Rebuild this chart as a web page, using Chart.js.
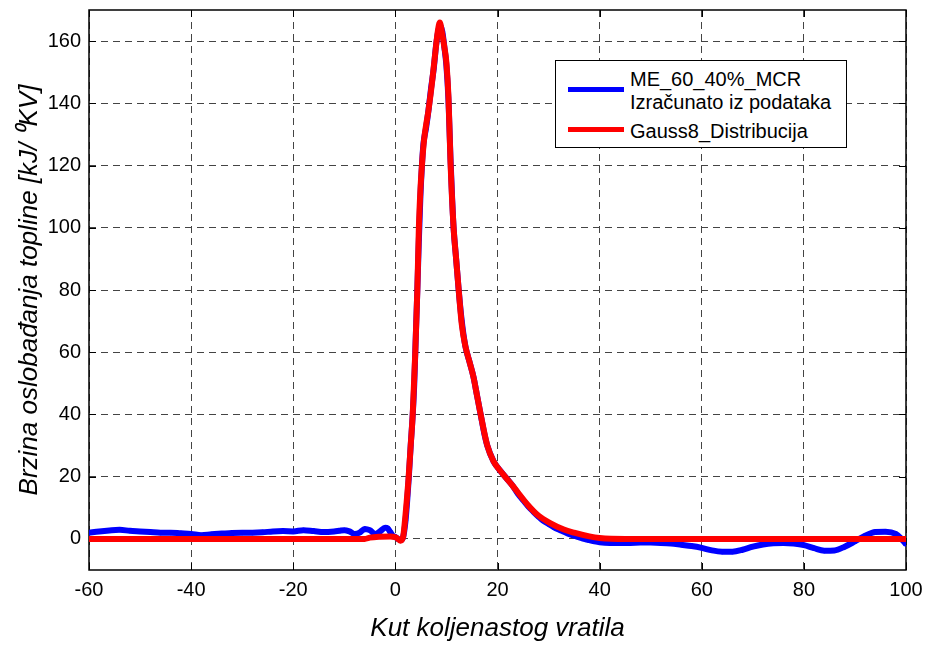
<!DOCTYPE html>
<html>
<head>
<meta charset="utf-8">
<script src="https://cdn.jsdelivr.net/npm/chart.js@4"></script>
<style>
  body { margin: 0; background: #fff; }
  #wrap { position: relative; width: 926px; height: 646px; }
  #legend { position: absolute; left: 555px; top: 60px; width: 290px; height: 86px;
    border: 1px solid #000; background: #fff; font-family: Arial, "Liberation Sans", sans-serif;
    font-size: 20px; color: #000; }
  #legend .sw { position: absolute; left: 12px; width: 56px; height: 5px; }
  #legend .tx { position: absolute; left: 74px; line-height: 23px; white-space: nowrap; }
</style>
</head>
<body>
<div id="wrap">
  <canvas id="graficoGauss" width="926" height="646"></canvas>
  <div id="legend">
    <div class="sw" style="top:26px;background:#0000ff"></div>
    <div class="tx" style="top:7px">ME_60_40%_MCR</div>
    <div class="tx" style="top:30px">Izračunato iz podataka</div>
    <div class="sw" style="top:66px;background:#ff0000"></div>
    <div class="tx" style="top:59px">Gauss8_Distribucija</div>
  </div>
</div>
<script>
// ── Data ───────────────────────────────────────────────────────────
const xTicks = [-60, -40, -20, 0, 20, 40, 60, 80, 100];
const yTicks = [0, 20, 40, 60, 80, 100, 120, 140, 160];

// measured curve (blue, dots)
const xBlue = [-60,-58,-56,-54,-52,-50,-48,-46,-44,-42,-40,-38,-36,-34,-32,-30,-28,-26,-24,-22,-20,-18,-16,-14,-12,-11,-10,-9,-8,-7,-6,-5,-4,-3,-2,-1.5,-1,-0.5,0,0.5,1,1.5,2,2.3,2.6,3,3.4,3.7,3.9,4.1,4.3,4.6,4.9,5.2,5.5,6,6.5,7,7.5,8,8.5,8.8,9.2,9.6,10,10.4,10.8,11.1,11.4,11.9,12.4,13,13.7,14.5,15.3,16,16.7,17.4,18,19.2,20,21,22,23,24,25,26,27,28,29,30,31,32,33,34,35,36,37,38,39,40,42,44,46,48,50,52,54,56,58,60,62,64,66,68,70,72,74,76,78,80,82,84,86,88,90,92,94,96,98,99,100];
const yBlue = [2.0,2.4,2.7,2.9,2.6,2.4,2.2,2.0,2.0,1.8,1.6,1.2,1.5,1.7,1.9,2.0,2.0,2.1,2.4,2.5,2.4,2.8,2.5,2.2,2.4,2.6,2.8,2.4,1.6,2.0,3.2,2.8,1.6,2.4,3.6,3.4,2.2,1.0,0.6,0.0,-0.4,0.5,6,12,19,30,40,50,60,70,80,96,110,120,127,132,138,145,151,159,164,165,163,158,152,141,122,110,100,90,80,70,62,57,52,46,40,34,30,25,23,21,19,17,14.5,12.5,10.5,8.8,7.2,5.8,4.8,3.8,3.0,2.3,1.6,1.0,0.5,0.0,-0.4,-0.8,-1.1,-1.3,-1.3,-1.3,-1.2,-1.2,-1.3,-1.5,-1.9,-2.3,-2.9,-3.7,-4.1,-4.1,-3.5,-2.5,-1.8,-1.4,-1.3,-1.5,-2.0,-3.0,-3.8,-3.7,-2.5,-0.8,1.0,2.2,2.3,1.6,0.2,-1.7];

// Gauss8 fit (red)
const xRed = [-60,-20,-6,-5,-3,-1,0,0.5,1,1.5,2,2.6,3,3.4,3.9,4.3,4.6,4.9,5.2,5.6,6.5,7.2,7.8,8.3,8.7,9.1,9.6,10,10.4,10.8,11.4,11.9,12.4,13,13.7,14.5,15.3,16,16.7,18,19.2,21,23,25.9,28,30.4,33,35,38,40,45,100];
const yRed = [0,0,0,0.4,0.7,0.8,0.5,0,-0.6,0.5,8,20,30,40,60,80,100,112,120,128,138,147,156,163,166,163,158,153,142,121,100,90,80,69,62,57,52,46,40,30,25,21,17,11,7.5,5,3,2,0.8,0.3,0,0];

const BLUE = '#0000ff', RED = '#ff0000';
const FONT = 'Arial, "Liberation Sans", Helvetica, sans-serif';

const pts = (xs, ys) => xs.map((x, i) => ({ x, y: ys[i] }));

// fixed scale boxes so the plot area lands where the original does
function fitBox(s, key, size) {
  s[key] = size;
  s.paddingTop = 0; s.paddingBottom = 0; s.paddingLeft = 0; s.paddingRight = 0;
}

// frame + inner tick marks, like the original box axes
const boxPlugin = {
  id: 'box',
  beforeDatasetsDraw(chart) {
    const { ctx, chartArea: a, scales } = chart;
    ctx.save();
    ctx.strokeStyle = '#000';
    ctx.lineWidth = 1;
    ctx.beginPath();
    xTicks.forEach(v => {
      const px = Math.round(scales.x.getPixelForValue(v)) + 0.5;
      ctx.moveTo(px, a.bottom); ctx.lineTo(px, a.bottom - 7);
      ctx.moveTo(px, a.top); ctx.lineTo(px, a.top + 7);
    });
    yTicks.forEach(v => {
      const py = Math.round(scales.y.getPixelForValue(v)) + 0.5;
      ctx.moveTo(a.left, py); ctx.lineTo(a.left + 7, py);
      ctx.moveTo(a.right, py); ctx.lineTo(a.right - 7, py);
    });
    ctx.stroke();
    ctx.lineWidth = 1.5;
    ctx.strokeRect(a.left, a.top, a.right - a.left, a.bottom - a.top);
    ctx.restore();
  },
};

new Chart(document.getElementById('graficoGauss'), {
  type: 'line',
  data: {
    datasets: [
      { label: 'ME_60_40%_MCR Izračunato iz podataka', data: pts(xBlue, yBlue), order: 2,
        borderColor: BLUE, backgroundColor: BLUE, borderWidth: 6, pointRadius: 2.5,
        pointBorderWidth: 0, cubicInterpolationMode: 'monotone' },
      { label: 'Gauss8_Distribucija', data: pts(xRed, yRed), order: 1,
        borderColor: RED, backgroundColor: RED, borderWidth: 6, pointRadius: 0,
        cubicInterpolationMode: 'monotone' },
    ],
  },
  options: {
    responsive: false,
    animation: false,
    layout: { padding: { top: 10, right: 20, left: 0, bottom: 0 } },
    plugins: { legend: { display: false }, tooltip: { enabled: false } },
    scales: {
      x: {
        type: 'linear', min: -60, max: 100,
        afterBuildTicks: s => { s.ticks = xTicks.map(v => ({ value: v })); },
        afterFit: s => fitBox(s, 'height', 76),
        ticks: { color: '#000', padding: 8, font: { family: FONT, size: 20 }, callback: v => String(v) },
        grid: { color: '#444', lineWidth: 1, drawTicks: false },
        border: { display: false, dash: [7, 5] },
        title: { display: true, text: 'Kut koljenastog vratila', color: '#000',
          font: { family: FONT, size: 26, style: 'italic' }, padding: { top: 0, bottom: 2 } },
      },
      y: {
        type: 'linear', min: -10, max: 170,
        afterBuildTicks: s => { s.ticks = yTicks.map(v => ({ value: v })); },
        afterFit: s => fitBox(s, 'width', 89),
        ticks: { color: '#000', padding: 8, font: { family: FONT, size: 20 }, callback: v => String(v) },
        grid: { color: '#444', lineWidth: 1, drawTicks: false },
        border: { display: false, dash: [7, 5] },
        title: { display: true, text: 'Brzina oslobađanja topline [kJ/ ⁰KV]', color: '#000',
          font: { family: FONT, size: 26, style: 'italic' }, padding: { top: 14, bottom: 0 } },
      },
    },
  },
  plugins: [boxPlugin],
});
</script>
</body>
</html>
